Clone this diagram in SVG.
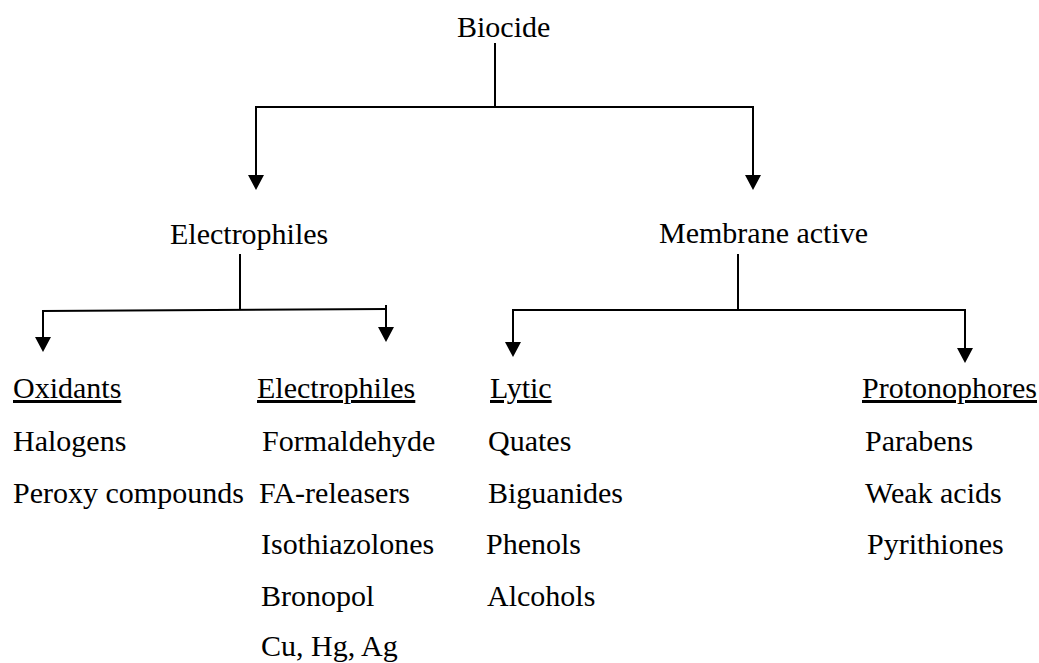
<svg xmlns="http://www.w3.org/2000/svg" width="1039" height="663" viewBox="0 0 1039 663">
<style>
text{font-family:"Liberation Serif","Times New Roman",serif;font-size:30px;fill:#000}
.u{text-decoration:underline}
.c{fill:none;stroke:#000;stroke-width:2}
</style>
<defs>
<marker id="ah" viewBox="0 0 15 16" refX="5" refY="8" markerWidth="15" markerHeight="16" markerUnits="userSpaceOnUse" orient="auto">
<path d="M0,0 L15,8 L0,16 z" fill="#000"/>
</marker>
</defs>
<rect width="1039" height="663" fill="#fff"/>
<g id="connectors">
<path class="c" d="M495,43 V107"/>
<path class="c" d="M255,107 H754"/>
<path class="c" d="M256,107 V180" marker-end="url(#ah)"/>
<path class="c" d="M753,107 V180" marker-end="url(#ah)"/>
<path class="c" d="M240,254 V310"/>
<path class="c" d="M42,311 L387,309"/>
<path class="c" d="M43,311 V342" marker-end="url(#ah)"/>
<path class="c" d="M386,305 V332" marker-end="url(#ah)"/>
<path class="c" d="M738,254 V310"/>
<path class="c" d="M512,310 H966"/>
<path class="c" d="M513,310 V347" marker-end="url(#ah)"/>
<path class="c" d="M965,310 V353" marker-end="url(#ah)"/>
</g>
<g id="biocide"><text x="457" y="37">Biocide</text></g>
<g id="electrophiles-main"><text x="170" y="244">Electrophiles</text></g>
<g id="membrane-active"><text x="659" y="243">Membrane active</text></g>
<g id="oxidants">
<text class="u" x="13" y="398">Oxidants</text>
<text x="13" y="451">Halogens</text>
<text x="13" y="503">Peroxy compounds</text>
</g>
<g id="electrophiles">
<text class="u" x="257" y="398">Electrophiles</text>
<text x="262" y="451">Formaldehyde</text>
<text x="259" y="503">FA-releasers</text>
<text x="261" y="554">Isothiazolones</text>
<text x="261" y="606">Bronopol</text>
<text x="261" y="656">Cu, Hg, Ag</text>
</g>
<g id="lytic">
<text class="u" x="490" y="398">Lytic</text>
<text x="488" y="451">Quates</text>
<text x="488" y="503">Biguanides</text>
<text x="486" y="554">Phenols</text>
<text x="487" y="606">Alcohols</text>
</g>
<g id="protonophores">
<text class="u" x="862" y="398">Protonophores</text>
<text x="865" y="451">Parabens</text>
<text x="865" y="503">Weak acids</text>
<text x="867" y="554">Pyrithiones</text>
</g>
</svg>
